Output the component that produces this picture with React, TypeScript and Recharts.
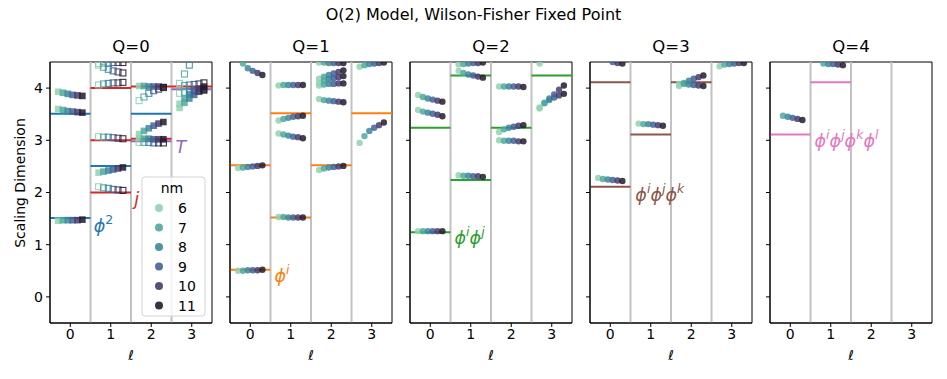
import React from 'react'
import { ScatterChart, Scatter, XAxis, YAxis, ReferenceLine, ReferenceArea } from 'recharts'

// lattice sizes and their colours (mako-like)
const NM = [6, 7, 8, 9, 10, 11]
const NM_COLORS = ['#92d2af', '#50a89e', '#3c879b', '#416496', '#463c6e', '#231c2d']

const CHARGES = [0, 1, 2, 3, 4]
const L_TICKS = [0, 1, 2, 3]
const Y_TICKS = [0, 1, 2, 3, 4]

type Level = { l: number; open?: boolean; dims: (number | null)[] }
type Exact = { l: number; dim: number; color: string }
type Tag = { x: number; y: number; color: string; parts: [string, string][] }

// Q=0 levels (squares: filled / open)
const q0Levels: Level[] = [
  { l: 0, dims: [3.93, 3.91, 3.89, 3.87, 3.86, 3.85] },
  { l: 0, dims: [3.6, 3.58, 3.56, 3.55, 3.54, 3.53] },
  { l: 0, dims: [1.46, 1.47, 1.47, 1.47, 1.47, 1.48] },
  { l: 1, open: true, dims: [4.47, 4.48, 4.48, 4.49, 4.49, 4.49] },
  { l: 1, open: true, dims: [4.44, 4.4, 4.36, 4.33, 4.31, 4.29] },
  { l: 1, open: true, dims: [4.06, 4.08, 4.09, 4.1, 4.1, 4.11] },
  { l: 1, open: true, dims: [3.07, 3.06, 3.06, 3.05, 3.04, 3.03] },
  { l: 1, dims: [2.38, 2.4, 2.42, 2.44, 2.46, 2.48] },
  { l: 1, open: true, dims: [2.11, 2.09, 2.08, 2.06, 2.05, 2.04] },
  { l: 2, open: true, dims: [3.76, 3.83, 3.9, 3.95, 3.98, 4.01] },
  { l: 2, dims: [4.04, 4.04, 4.03, 4.03, 4.03, 4.02] },
  { l: 2, dims: [3.12, 3.18, 3.23, 3.28, 3.32, 3.35] },
  { l: 2, dims: [3.04, 3.03, 3.03, 3.02, 3.02, 3.02] },
  { l: 2, open: true, dims: [2.96, 2.96, 2.96, 2.95, 2.95, 2.95] },
  { l: 3, open: true, dims: [4.09, 4.27, 4.44, null, null, null] },
  { l: 3, open: true, dims: [null, 4.05, 4.06, 4.07, 4.08, 4.1] },
  { l: 3, open: true, dims: [3.9, 3.92, 3.93, 3.94, 3.95, 3.96] },
  { l: 3, dims: [3.62, 3.72, 3.8, 3.87, 3.93, 3.97] },
  { l: 3, dims: [3.7, 3.8, 3.88, 3.94, 3.99, 4.03] },
]

const q1Levels: Level[] = [
  { l: 0, dims: [null, 4.47, 4.38, 4.33, 4.29, 4.25] },
  { l: 0, dims: [0.5, 0.5, 0.51, 0.51, 0.51, 0.52] },
  { l: 0, dims: [2.47, 2.48, 2.49, 2.5, 2.51, 2.52] },
  { l: 1, dims: [4.05, 4.06, 4.06, 4.06, 4.06, 4.06] },
  { l: 1, dims: [3.38, 3.41, 3.43, 3.45, 3.46, 3.47] },
  { l: 1, dims: [3.13, 3.11, 3.09, 3.07, 3.06, 3.04] },
  { l: 1, dims: [1.53, 1.53, 1.52, 1.52, 1.52, 1.52] },
  { l: 2, dims: [4.49, 4.49, 4.48, 4.48, 4.48, 4.48] },
  { l: 2, dims: [4.18, 4.22, 4.25, 4.28, 4.31, 4.34] },
  { l: 2, dims: [4.1, 4.14, 4.17, 4.19, 4.21, 4.23] },
  { l: 2, dims: [4.05, 4.07, 4.08, 4.08, 4.09, 4.09] },
  { l: 2, dims: [3.79, 3.77, 3.76, 3.75, 3.74, 3.73] },
  { l: 2, dims: [2.43, 2.46, 2.48, 2.49, 2.5, 2.51] },
  { l: 3, dims: [4.41, 4.44, 4.46, 4.47, 4.48, 4.49] },
  { l: 3, dims: [2.95, 3.08, 3.18, 3.24, 3.29, 3.34] },
]

const q2Levels: Level[] = [
  { l: 0, dims: [3.87, 3.83, 3.8, 3.78, 3.76, 3.74] },
  { l: 0, dims: [3.58, 3.55, 3.53, 3.51, 3.49, 3.46] },
  { l: 0, dims: [1.26, 1.26, 1.26, 1.26, 1.26, 1.26] },
  { l: 1, dims: [4.45, 4.46, 4.47, 4.48, 4.48, 4.49] },
  { l: 1, dims: [4.33, 4.29, 4.26, 4.24, 4.22, 4.2] },
  { l: 1, dims: [2.33, 2.32, 2.32, 2.31, 2.31, 2.3] },
  { l: 2, dims: [4.03, 4.03, 4.03, 4.03, 4.03, 4.02] },
  { l: 2, dims: [3.16, 3.21, 3.24, 3.26, 3.28, 3.29] },
  { l: 2, dims: [3.0, 2.99, 2.99, 2.99, 2.98, 2.98] },
  { l: 3, dims: [4.47, null, null, null, null, null] },
  { l: 3, dims: [3.61, 3.72, 3.8, 3.88, 3.97, 4.05] },
  { l: 3, dims: [3.63, 3.71, 3.77, 3.82, 3.86, 3.89] },
]

const q3Levels: Level[] = [
  { l: 0, dims: [null, null, null, 4.5, 4.48, 4.47] },
  { l: 0, dims: [2.28, 2.26, 2.25, 2.24, 2.23, 2.22] },
  { l: 1, dims: [3.32, 3.31, 3.31, 3.3, 3.29, 3.28] },
  { l: 2, dims: [4.04, 4.1, 4.14, 4.18, 4.21, 4.24] },
  { l: 2, dims: [4.08, 4.08, 4.07, 4.06, 4.05, 4.04] },
  { l: 3, dims: [4.42, 4.45, 4.46, 4.47, 4.48, 4.48] },
]

const q4Levels: Level[] = [
  { l: 0, dims: [null, 3.47, 3.45, 3.43, 3.41, 3.39] },
  { l: 1, dims: [null, 4.47, 4.46, 4.46, 4.45, 4.44] },
]

// exact (free theory / conserved) dimensions drawn as segments
const q0Exact: Exact[] = [
  { l: 0, dim: 1.51, color: '#1f77b4' },
  { l: 0, dim: 3.51, color: '#1f77b4' },
  { l: 1, dim: 2.51, color: '#1f77b4' },
  { l: 2, dim: 3.51, color: '#1f77b4' },
  { l: 1, dim: 2.0, color: '#d62728' },
  { l: 1, dim: 3.0, color: '#d62728' },
  { l: 1, dim: 4.0, color: '#d62728' },
  { l: 2, dim: 3.03, color: '#d62728' },
  { l: 2, dim: 4.03, color: '#d62728' },
  { l: 3, dim: 4.03, color: '#d62728' },
  { l: 2, dim: 2.98, color: '#9467bd' },
  { l: 3, dim: 3.98, color: '#9467bd' },
]
const q1Exact: Exact[] = [
  { l: 0, dim: 0.52, color: '#ff7f0e' },
  { l: 0, dim: 2.52, color: '#ff7f0e' },
  { l: 1, dim: 1.52, color: '#ff7f0e' },
  { l: 1, dim: 3.52, color: '#ff7f0e' },
  { l: 2, dim: 2.52, color: '#ff7f0e' },
  { l: 3, dim: 3.52, color: '#ff7f0e' },
]
const q2Exact: Exact[] = [
  { l: 0, dim: 1.24, color: '#2ca02c' },
  { l: 0, dim: 3.24, color: '#2ca02c' },
  { l: 1, dim: 2.24, color: '#2ca02c' },
  { l: 1, dim: 4.24, color: '#2ca02c' },
  { l: 2, dim: 3.24, color: '#2ca02c' },
  { l: 3, dim: 4.24, color: '#2ca02c' },
]
const q3Exact: Exact[] = [
  { l: 0, dim: 2.11, color: '#8c564b' },
  { l: 0, dim: 4.11, color: '#8c564b' },
  { l: 1, dim: 3.11, color: '#8c564b' },
  { l: 2, dim: 4.11, color: '#8c564b' },
]
const q4Exact: Exact[] = [
  { l: 0, dim: 3.11, color: '#e377c2' },
  { l: 1, dim: 4.11, color: '#e377c2' },
]

const q0Tags: Tag[] = [
  { x: 0.58, y: 1.36, color: '#1f77b4', parts: [['ϕ', '2']] },
  { x: 1.58, y: 1.88, color: '#d62728', parts: [['j', '']] },
  { x: 2.6, y: 2.87, color: '#9467bd', parts: [['T', '']] },
]
const q1Tags: Tag[] = [{ x: 0.6, y: 0.4, color: '#ff7f0e', parts: [['ϕ', 'i']] }]
const q2Tags: Tag[] = [{ x: 0.6, y: 1.13, color: '#2ca02c', parts: [['ϕ', 'i'], ['ϕ', 'j']] }]
const q3Tags: Tag[] = [{ x: 0.62, y: 1.96, color: '#8c564b', parts: [['ϕ', 'i'], ['ϕ', 'j'], ['ϕ', 'k']] }]
const q4Tags: Tag[] = [{ x: 0.6, y: 2.99, color: '#e377c2', parts: [['ϕ', 'i'], ['ϕ', 'j'], ['ϕ', 'k'], ['ϕ', 'l']] }]

const LEVELS = [q0Levels, q1Levels, q2Levels, q3Levels, q4Levels]
const EXACT = [q0Exact, q1Exact, q2Exact, q3Exact, q4Exact]
const TAGS = [q0Tags, q1Tags, q2Tags, q3Tags, q4Tags]

const FONT = 'DejaVu Sans'
const DODGE = 0.12
const PLOT_LEFT = 50
const PANEL_STEP = 180
const PLOT_W = 162
const PLOT_TOP = 62
const PLOT_BOTTOM = 323
const Y_AXIS_W = 40
const X_AXIS_H = 30

const pointsFor = (levels: Level[], i: number, square: boolean) =>
  levels
    .filter((lv) => lv.dims[i] != null)
    .map((lv) => ({ x: lv.l + (i - 2.5) * DODGE, y: lv.dims[i] as number, square, open: !!lv.open }))

const Marker = (props: any) => {
  const { cx, cy, payload, fill } = props
  if (cx == null || cy == null) return null
  if (payload.square) {
    return payload.open ? (
      <rect x={cx - 3} y={cy - 3} width={6} height={6} fill="none" stroke={fill} strokeWidth={1.1} strokeOpacity={0.9} />
    ) : (
      <rect x={cx - 3.3} y={cy - 3.3} width={6.6} height={6.6} fill={fill} fillOpacity={0.85} />
    )
  }
  return <circle cx={cx} cy={cy} r={3.2} fill={fill} fillOpacity={0.85} />
}

const TagShape = (props: any) => {
  const { cx, cy, payload } = props
  if (cx == null || cy == null) return null
  const nodes: React.ReactNode[] = []
  let raised = false
  payload.parts.forEach(([base, sup]: [string, string], k: number) => {
    nodes.push(
      <tspan key={'b' + k} fontStyle="italic" dy={raised ? 7 : 0}>
        {base}
      </tspan>
    )
    raised = false
    if (sup) {
      nodes.push(
        <tspan key={'s' + k} fontSize={12.5} dy={-7} fontStyle={sup === '2' ? 'normal' : 'italic'}>
          {sup}
        </tspan>
      )
      raised = true
    }
  })
  return (
    <text x={cx} y={cy} fill={payload.color} fontSize={17.5} fontFamily={FONT} dominantBaseline="central">
      {nodes}
    </text>
  )
}

const Panel = ({ q }: { q: number }) => {
  const levels = LEVELS[q]
  const square = q === 0
  const width = Y_AXIS_W + PLOT_W + 8
  return (
    <div style={{ position: 'absolute', left: PLOT_LEFT + q * PANEL_STEP - Y_AXIS_W, top: 0 }}>
      <ScatterChart
        width={width}
        height={379}
        margin={{ top: PLOT_TOP, right: 8, bottom: 379 - PLOT_BOTTOM - X_AXIS_H, left: 0 }}
      >
        <XAxis
          type="number"
          dataKey="x"
          domain={[-0.5, 3.5]}
          ticks={L_TICKS}
          allowDataOverflow
          height={X_AXIS_H}
          stroke="#000"
          tickSize={4}
          tickMargin={2}
          tick={{ fill: '#000', fontSize: 14, fontFamily: FONT }}
        />
        <YAxis
          type="number"
          dataKey="y"
          domain={[-0.5, 4.5]}
          ticks={Y_TICKS}
          allowDataOverflow
          width={Y_AXIS_W}
          stroke="#000"
          tickSize={4}
          tickMargin={3}
          tickFormatter={(v: number) => (q === 0 ? String(v) : '')}
          tick={{ fill: '#000', fontSize: 14, fontFamily: FONT }}
        />
        {[0.5, 1.5, 2.5].map((b) => (
          <ReferenceLine key={'v' + b} x={b} stroke="#c2c2c2" strokeWidth={2} />
        ))}
        {EXACT[q].map((e, k) => (
          <ReferenceLine
            key={'e' + k}
            segment={[
              { x: e.l - 0.5, y: e.dim },
              { x: e.l + 0.5, y: e.dim },
            ]}
            stroke={e.color}
            strokeWidth={2}
          />
        ))}
        <ReferenceArea x1={-0.5} x2={3.5} y1={-0.5} y2={4.5} fill="none" stroke="#000" strokeWidth={1} />
        {NM.map((nm, i) => (
          <Scatter
            key={nm}
            data={pointsFor(levels, i, square)}
            fill={NM_COLORS[i]}
            shape={Marker}
            isAnimationActive={false}
          />
        ))}
        <Scatter data={TAGS[q]} shape={TagShape} isAnimationActive={false} />
      </ScatterChart>
    </div>
  )
}

const Overlay = () => {
  const legendTop = 177
  return (
    <svg
      width={947}
      height={379}
      style={{ position: 'absolute', left: 0, top: 0, pointerEvents: 'none' }}
      fontFamily={FONT}
    >
      <text x={473.5} y={14} textAnchor="middle" dominantBaseline="central" fontSize={16}>
        O(2) Model, Wilson-Fisher Fixed Point
      </text>
      {CHARGES.map((q) => (
        <g key={q}>
          <text
            x={PLOT_LEFT + q * PANEL_STEP + PLOT_W / 2}
            y={46}
            textAnchor="middle"
            dominantBaseline="central"
            fontSize={16.5}
          >
            {'Q=' + q}
          </text>
          <text
            x={PLOT_LEFT + q * PANEL_STEP + PLOT_W / 2}
            y={355}
            textAnchor="middle"
            dominantBaseline="central"
            fontSize={13.5}
            fontStyle="italic"
          >
            ℓ
          </text>
        </g>
      ))}
      <text
        transform="translate(20,183) rotate(-90)"
        textAnchor="middle"
        dominantBaseline="central"
        fontSize={14}
      >
        Scaling Dimension
      </text>
      <rect x={142} y={legendTop} width={63} height={139} rx={3} fill="#fff" fillOpacity={0.8} stroke="#d3d3d3" />
      <text x={172} y={legendTop + 11} textAnchor="middle" dominantBaseline="central" fontSize={14}>
        nm
      </text>
      {NM.map((nm, i) => (
        <g key={nm}>
          <circle cx={159} cy={legendTop + 31 + i * 19.5} r={4} fill={NM_COLORS[i]} fillOpacity={0.9} />
          <text x={178} y={legendTop + 31 + i * 19.5} dominantBaseline="central" fontSize={14}>
            {nm}
          </text>
        </g>
      ))}
    </svg>
  )
}

export default function App() {
  return (
    <div style={{ position: 'absolute', left: 0, top: 0, width: 947, height: 379, background: '#fff' }}>
      {CHARGES.map((q) => (
        <Panel key={q} q={q} />
      ))}
      <Overlay />
    </div>
  )
}
